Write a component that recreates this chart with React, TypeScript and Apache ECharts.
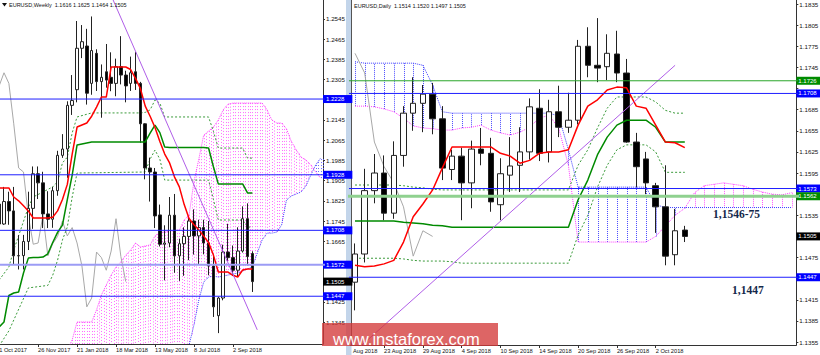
import React, { useEffect, useRef } from 'react';
import * as echarts from 'echarts';

// ================= WEEKLY (left panel) =================
// [open, close, low, high], week starting 1 Oct 2017 .. 30 Sep 2018
const weeklyOHLC = [
  [1.1812, 1.1733, 1.1669, 1.1836], [1.1733, 1.1822, 1.1730, 1.1880], [1.1822, 1.1785, 1.1730, 1.1861],
  [1.1785, 1.1607, 1.1574, 1.1880], [1.1607, 1.1608, 1.1553, 1.1689], [1.1608, 1.1664, 1.1553, 1.1690],
  [1.1664, 1.1795, 1.1630, 1.1861], [1.1795, 1.1932, 1.1714, 1.1961], [1.1932, 1.1896, 1.1832, 1.1961],
  [1.1896, 1.1773, 1.1717, 1.1940], [1.1773, 1.1752, 1.1717, 1.1863], [1.1752, 1.1865, 1.1718, 1.1880],
  [1.1865, 1.2005, 1.1845, 1.2023], [1.2005, 1.2030, 1.1995, 1.2089], [1.2030, 1.2203, 1.1916, 1.2219],
  [1.2203, 1.2222, 1.2165, 1.2323], [1.2265, 1.2429, 1.2215, 1.2537], [1.2429, 1.2455, 1.2390, 1.2521],
  [1.2438, 1.2251, 1.2206, 1.2506], [1.2290, 1.2420, 1.2245, 1.2555], [1.2409, 1.2297, 1.2260, 1.2425],
  [1.2297, 1.2314, 1.2154, 1.2365], [1.2336, 1.2303, 1.2273, 1.2446], [1.2314, 1.2290, 1.2259, 1.2413],
  [1.2290, 1.2356, 1.2239, 1.2388], [1.2356, 1.2323, 1.2286, 1.2477], [1.2323, 1.2280, 1.2215, 1.2340],
  [1.2290, 1.2332, 1.2260, 1.2396], [1.2336, 1.2290, 1.2264, 1.2414], [1.2290, 1.2130, 1.2055, 1.2296],
  [1.2130, 1.1955, 1.1910, 1.2132], [1.1955, 1.1939, 1.1822, 1.1996], [1.1939, 1.1765, 1.1717, 1.1955],
  [1.1769, 1.1653, 1.1644, 1.1810], [1.1653, 1.1658, 1.1510, 1.1728], [1.1658, 1.1768, 1.1641, 1.1840],
  [1.1768, 1.1607, 1.1540, 1.1852], [1.1607, 1.1655, 1.1508, 1.1675], [1.1655, 1.1684, 1.1528, 1.1720],
  [1.1684, 1.1745, 1.1590, 1.1765], [1.1745, 1.1686, 1.1612, 1.1791], [1.1686, 1.1719, 1.1575, 1.1750],
  [1.1719, 1.1658, 1.1613, 1.1750], [1.1658, 1.1567, 1.1530, 1.1745], [1.1567, 1.1405, 1.1365, 1.1609],
  [1.1370, 1.1440, 1.1301, 1.1445], [1.1440, 1.1622, 1.1431, 1.1651], [1.1622, 1.1600, 1.1587, 1.1734],
  [1.1600, 1.1550, 1.1527, 1.1648], [1.1550, 1.1626, 1.1526, 1.1720], [1.1626, 1.1754, 1.1620, 1.1803],
  [1.1754, 1.1604, 1.1569, 1.1815], [1.1616, 1.1505, 1.1464, 1.1625],
];
const weeklyTenkan = [
  1.1876, 1.1876, 1.1876, 1.1840, 1.1825, 1.1805, 1.1785, 1.1757, 1.1757, 1.1757,
  1.1757, 1.1760, 1.1785, 1.1830, 1.1890, 1.2010, 1.2117, 1.2125, 1.2133, 1.2160,
  1.2196, 1.2236, 1.2236, 1.2355, 1.2355, 1.2355, 1.2355, 1.2345, 1.2310, 1.2270,
  1.2200, 1.2160, 1.2115, 1.2060, 1.2010, 1.1975, 1.1920, 1.1880, 1.1810, 1.1755,
  1.1730, 1.1710, 1.1685, 1.1660, 1.1610, 1.1543, 1.1543, 1.1543, 1.1530, 1.1523,
  1.1551, 1.1555, 1.1555,
];
const weeklyKijun = [
  1.1325, 1.1345, 1.1450, 1.1460, 1.1464, 1.1539, 1.1598, 1.1600, 1.1600, 1.1602,
  1.1615, 1.1660, 1.1700, 1.1729, 1.1830, 1.1927, 1.2046, 1.2050, 1.2054, 1.2058,
  1.2058, 1.2058, 1.2058, 1.2058, 1.2058, 1.2058, 1.2058, 1.2058, 1.2058, 1.2058,
  1.2058, 1.2093, 1.2125, 1.2095, 1.2038, 1.2036, 1.2036, 1.2036, 1.2036, 1.2036,
  1.2036, 1.2036, 1.2036, 1.2034, 1.1960, 1.1892, 1.1892, 1.1892, 1.1892, 1.1892,
  1.1892, 1.1856, 1.1856,
];
const weeklyEnvUpper = [
  [0, 1.1511], [2, 1.1563], [3, 1.1630], [6, 1.1800], [7, 1.1840], [11, 1.1880], [12, 1.1900],
  [13, 1.1975], [14, 1.1998], [15, 1.2094], [16, 1.2157], [19, 1.2173], [29, 1.2173], [30, 1.2175],
  [31, 1.2185], [32, 1.2224], [33, 1.2212], [34, 1.2157], [43, 1.2157], [44, 1.2100], [45, 1.2034],
  [50, 1.2034], [51, 1.1994], [52, 1.1994],
];
const weeklyEnvLower = [
  [0, 1.1250], [2, 1.1310], [6, 1.1480], [10, 1.1490], [11, 1.1530], [12, 1.1590], [13, 1.1670],
  [14, 1.1721], [15, 1.1840], [16, 1.1935], [30, 1.1939], [31, 1.1990], [32, 1.2026], [33, 1.1990],
  [34, 1.1907], [43, 1.1907], [44, 1.1830], [45, 1.1749], [50, 1.1749], [51, 1.1721], [52, 1.1721],
];
const weeklyCloudStart = 14;
const weeklySpanA = [
  1.1234, 1.1274, 1.1345, 1.1345, 1.1345, 1.1345, 1.1393, 1.1452, 1.1492, 1.1531,
  1.1563, 1.1583, 1.1610, 1.1630, 1.1658, 1.1642, 1.1646, 1.1650, 1.1686, 1.1701,
  1.1701, 1.1705, 1.1709, 1.1709, 1.1749, 1.1769, 1.1900, 1.1990, 1.2085, 1.2101,
  1.2117, 1.2145, 1.2185, 1.2208, 1.2212, 1.2212, 1.2212, 1.2212, 1.2212, 1.2212,
  1.2212, 1.2185, 1.2145, 1.2133, 1.2133, 1.2110, 1.2060, 1.2026, 1.1998, 1.1986,
  1.1967, 1.1939, 1.1915,
];
const weeklySpanB = [
  1.1210, 1.1210, 1.1210, 1.1210, 1.1210, 1.1210, 1.1210, 1.1210, 1.1210, 1.1210,
  1.1210, 1.1210, 1.1210, 1.1210, 1.1210, 1.1210, 1.1210, 1.1210, 1.1210, 1.1210,
  1.1210, 1.1210, 1.1210, 1.1210, 1.1210, 1.1254, 1.1333, 1.1432, 1.1503, 1.1523,
  1.1527, 1.1523, 1.1527, 1.1531, 1.1535, 1.1539, 1.1547, 1.1555, 1.1563, 1.1618,
  1.1670, 1.1697, 1.1697, 1.1701, 1.1729, 1.1828, 1.1844, 1.1852, 1.1860, 1.1884,
  1.1927, 1.1967, 1.1994,
];
const weeklyTrend = [[23, 1.2638], [53, 1.1314]];
const weeklyCount = 67;
const weeklyLabelIdx = [0, 8, 16, 24, 32, 40, 48];
const weeklyLabels = ['1 Oct 2017', '26 Nov 2017', '21 Jan 2018', '18 Mar 2018', '13 May 2018', '8 Jul 2018', '2 Sep 2018'];
const weeklyTicks = [1.1345, 1.1425, 1.1505, 1.1585, 1.1665, 1.1745, 1.1825, 1.1905, 1.1985, 1.2065, 1.2145, 1.2225, 1.2305, 1.2385, 1.2465, 1.2545];
// tick labels that the price tags do not cover
const weeklyTickLabels = [1.1345, 1.1425, 1.1665, 1.1745, 1.1825, 1.1905, 1.1985, 1.2065, 1.2145, 1.2305, 1.2385, 1.2465, 1.2545];
const weeklyLevels = [1.2228, 1.1928, 1.1708, 1.1572, 1.1447];
const weeklyBid = 1.1505;

// ================= DAILY (right panel) =================
// [open, close, low, high], 20 Aug 2018 .. 5 Oct 2018
const dailyOHLC = [
  [1.1440, 1.1480, 1.1400, 1.1495], [1.1480, 1.1570, 1.1468, 1.1601], [1.1570, 1.1595, 1.1552, 1.1622],
  [1.1595, 1.1538, 1.1528, 1.1620], [1.1538, 1.1620, 1.1530, 1.1640], [1.1620, 1.1680, 1.1604, 1.1690],
  [1.1680, 1.1694, 1.1655, 1.1731], [1.1694, 1.1707, 1.1653, 1.1720], [1.1707, 1.1672, 1.1650, 1.1723],
  [1.1672, 1.1602, 1.1585, 1.1690], [1.1600, 1.1619, 1.1585, 1.1628], [1.1619, 1.1581, 1.1528, 1.1631],
  [1.1581, 1.1629, 1.1545, 1.1641], [1.1629, 1.1623, 1.1606, 1.1659], [1.1623, 1.1554, 1.1540, 1.1645],
  [1.1550, 1.1594, 1.1528, 1.1616], [1.1592, 1.1605, 1.1568, 1.1646], [1.1606, 1.1625, 1.1568, 1.1660],
  [1.1625, 1.1689, 1.1614, 1.1701], [1.1687, 1.1623, 1.1612, 1.1714], [1.1625, 1.1682, 1.1610, 1.1699],
  [1.1682, 1.1660, 1.1646, 1.1719], [1.1660, 1.1670, 1.1652, 1.1709], [1.1670, 1.1775, 1.1664, 1.1784],
  [1.1775, 1.1748, 1.1731, 1.1802], [1.1748, 1.1744, 1.1724, 1.1815], [1.1746, 1.1765, 1.1727, 1.1792],
  [1.1764, 1.1737, 1.1724, 1.1797], [1.1737, 1.1639, 1.1638, 1.1757], [1.1639, 1.1604, 1.1575, 1.1652],
  [1.1615, 1.1581, 1.1565, 1.1625], [1.1577, 1.1547, 1.1510, 1.1581], [1.1547, 1.1477, 1.1464, 1.1606],
  [1.1479, 1.1513, 1.1464, 1.1544], [1.1514, 1.1505, 1.1497, 1.1520],
];
const dailyTenkan = [
  1.1464, 1.1462, 1.1463, 1.1466, 1.1471, 1.1497, 1.1533, 1.1551, 1.1571, 1.1602,
  1.1632, 1.1632, 1.1632, 1.1632, 1.1632, 1.1623, 1.1619, 1.1609, 1.1613, 1.1623,
  1.1625, 1.1625, 1.1628, 1.1663, 1.1690, 1.1699, 1.1713, 1.1717, 1.1716, 1.1690,
  1.1687, 1.1663, 1.1639, 1.1638, 1.1631,
];
const dailyKijun = [
  1.1527, 1.1527, 1.1527, 1.1527, 1.1527, 1.1525, 1.1524, 1.1523, 1.1521, 1.1520,
  1.1518, 1.1518, 1.1518, 1.1518, 1.1518, 1.1518, 1.1518, 1.1518, 1.1518, 1.1518,
  1.1518, 1.1518, 1.1518, 1.1557, 1.1585, 1.1621, 1.1646, 1.1663, 1.1670, 1.1670,
  1.1670, 1.1660, 1.1639, 1.1639, 1.1639,
];
const dailyEnvUpper = [
  1.1578, 1.1578, 1.1578, 1.1578, 1.1578, 1.1577, 1.1575, 1.1574, 1.1572, 1.1571,
  1.1571, 1.1571, 1.1571, 1.1571, 1.1571, 1.1571, 1.1571, 1.1571, 1.1571, 1.1571,
  1.1571, 1.1571, 1.1571, 1.1606, 1.1628, 1.1659, 1.1687, 1.1703, 1.1703, 1.1703,
  1.1703, 1.1696, 1.1684, 1.1680, 1.1680,
];
const dailyEnvLower = [
  1.1474, 1.1474, 1.1474, 1.1474, 1.1474, 1.1473, 1.1471, 1.1470, 1.1470, 1.1470,
  1.1469, 1.1467, 1.1467, 1.1467, 1.1467, 1.1467, 1.1467, 1.1467, 1.1467, 1.1467,
  1.1467, 1.1467, 1.1467, 1.1507, 1.1535, 1.1575, 1.1606, 1.1628, 1.1635, 1.1635,
  1.1635, 1.1625, 1.1596, 1.1596, 1.1596,
];
const dailySpanA = [
  1.1690, 1.1690, 1.1689, 1.1686, 1.1682, 1.1673, 1.1662, 1.1659, 1.1658, 1.1656,
  1.1656, 1.1659, 1.1660, 1.1663, 1.1656, 1.1652, 1.1649, 1.1653, 1.1660, 1.1673,
  1.1677, 1.1659, 1.1606, 1.1497, 1.1497, 1.1497, 1.1497, 1.1497, 1.1497, 1.1497,
  1.1497, 1.1505, 1.1520, 1.1535, 1.1545, 1.1567, 1.1577, 1.1579, 1.1581, 1.1579,
  1.1577, 1.1572, 1.1568, 1.1565, 1.1564, 1.1567,
];
const dailySpanB = [
  1.1753, 1.1751, 1.1751, 1.1751, 1.1751, 1.1751, 1.1751, 1.1748, 1.1720, 1.1682,
  1.1680, 1.1680, 1.1680, 1.1680, 1.1680, 1.1680, 1.1680, 1.1680, 1.1680, 1.1680,
  1.1680, 1.1676, 1.1628, 1.1575, 1.1575, 1.1575, 1.1575, 1.1575, 1.1575, 1.1575,
  1.1575, 1.1550, 1.1546, 1.1546, 1.1546, 1.1546, 1.1546, 1.1546, 1.1546, 1.1546,
  1.1546, 1.1546, 1.1546, 1.1546, 1.1546, 1.1546,
];
const dailyTrend = [[0, 1.1342], [33, 1.1748]];
const dailyCount = 46;
const dailyLabelIdx = [3, 7, 11, 15, 19, 23, 27, 31];
const dailyLabels = ['23 Aug 2018', '29 Aug 2018', '4 Sep 2018', '10 Sep 2018', '14 Sep 2018', '20 Sep 2018', '26 Sep 2018', '2 Oct 2018'];
const dailyTicks = [1.1355, 1.1385, 1.1415, 1.1445, 1.1475, 1.1505, 1.1535, 1.1565, 1.1595, 1.1625, 1.1655, 1.1685, 1.1715, 1.1745, 1.1775, 1.1805, 1.1835];
const dailyTickLabels = [1.1355, 1.1385, 1.1415, 1.1475, 1.1535, 1.1595, 1.1625, 1.1655, 1.1685, 1.1745, 1.1775, 1.1805, 1.1835];
const dailyLevels = [1.1726, 1.1708, 1.1573, 1.1562, 1.1447];
const dailyBid = 1.1505;
const chikouShift = 26;

// ================= styles =================
const FONT = '"Liberation Sans", Arial, sans-serif';
const PINK = '#ff3cff';
const BLUE = '#3c3cff';
const AXIS = '#333';
const NONE = 'rgba(0,0,0,0)';
const weeklyLevelStyle = [
  { color: '#1e1eff', width: 1, tag: '#0000ff' },
  { color: '#1e1eff', width: 1, tag: '#0000ff' },
  { color: '#1e1eff', width: 1, tag: '#0000ff' },
  { color: '#9c9cf5', width: 2, tag: '#0000ff' },
  { color: '#1e1eff', width: 1, tag: '#0000ff' },
];
const dailyLevelStyle = [
  { color: '#2aa52a', width: 1, tag: '#008c00' },
  { color: '#1e1eff', width: 1, tag: '#0000ff' },
  { color: '#1e1eff', width: 1, tag: '#0000ff' },
  { color: '#8fd18f', width: 3, tag: '#008c00' },
  { color: '#1e1eff', width: 1, tag: '#0000ff' },
];

// price tags on the axis (labels only, the lines are drawn as line series)
function priceTags(levels: number[], styles: any[], bid: number, padding: number[]) {
  const label = (bg: string) => ({
    show: true, position: 'end', distance: 0, color: '#ffffff', backgroundColor: bg,
    fontSize: 6, fontFamily: FONT, lineHeight: 7, padding, opacity: 1,
    formatter: (p: any) => Number(p.value).toFixed(4),
  });
  return {
    symbol: ['none', 'none'], silent: true, animation: false, precision: 4,
    lineStyle: { color: NONE, width: 1, type: 'solid' },
    emphasis: { disabled: true },
    data: [
      ...levels.map((v, k) => ({ yAxis: v, lineStyle: { color: NONE }, label: label(styles[k].tag) })),
      { yAxis: bid, lineStyle: { color: NONE }, label: label('#000000') },
    ],
  };
}

function levelSeries(axis: number, count: number, levels: number[], styles: any[]) {
  return levels.map((v, k) => ({
    type: 'line', xAxisIndex: axis, yAxisIndex: axis, symbol: 'none', silent: true, clip: true, z: 6,
    data: [[-1, v], [count, v]],
    lineStyle: { color: styles[k].color, width: styles[k].width, type: 'solid' },
    emphasis: { disabled: true },
  }));
}

function hatch(axis: number, start: number, aVals: number[], bVals: number[], perBar: number, pink: string, blue: string, dash: number[]) {
  const data = aVals.map((a, k) => [start + k, a, bVals[k], aVals[k + 1] ?? a, bVals[k + 1] ?? bVals[k]]);
  return {
    type: 'custom', xAxisIndex: axis, yAxisIndex: axis, clip: true, silent: true, z: 1,
    data,
    encode: { x: 0, y: [1, 2] },
    renderItem: (params: any, api: any) => {
      const i = api.value(0);
      const bw = api.size([1, 0])[0];
      const children: any[] = [];
      for (let s = 0; s < perBar; s++) {
        const t = s / perBar;
        const a = api.value(1) + (api.value(3) - api.value(1)) * t;
        const b = api.value(2) + (api.value(4) - api.value(2)) * t;
        const p1 = api.coord([i, a]);
        const p2 = api.coord([i, b]);
        const x = Math.round(p1[0] + bw * t) + 0.5;
        children.push({
          type: 'line', shape: { x1: x, y1: p1[1], x2: x, y2: p2[1] },
          style: { stroke: a >= b ? pink : blue, lineWidth: 1, lineDash: dash },
        });
      }
      return { type: 'group', children };
    },
  };
}

function line(axis: number, data: any[], color: string, width: number, type: any, z: number) {
  return {
    type: 'line', xAxisIndex: axis, yAxisIndex: axis, data, symbol: 'none', silent: true, clip: true, z,
    lineStyle: { color, width, type }, emphasis: { disabled: true },
  };
}

function xAxis(grid: number, count: number, idx: number[], labels: string[]) {
  const cats = Array.from({ length: count }, (_, i) => String(i));
  return {
    type: 'category', gridIndex: grid, data: cats, boundaryGap: true,
    axisLine: { show: true, lineStyle: { color: AXIS, width: 1 } },
    axisTick: { show: true, alignWithLabel: true, length: 3, interval: (i: number) => idx.includes(i), lineStyle: { color: AXIS } },
    axisLabel: {
      show: true, interval: (i: number) => idx.includes(i), align: 'left', margin: 3,
      fontSize: 5.7, fontFamily: FONT, color: '#111',
      formatter: (_v: string, i: number) => { const k = idx.indexOf(i); return k >= 0 ? labels[k] : ''; },
    },
    splitLine: { show: false },
  };
}

function yAxis(grid: number, min: number, max: number, ticks: number[], tickLabels: number[]) {
  return {
    type: 'value', gridIndex: grid, position: 'right', min, max,
    axisLine: { show: true, lineStyle: { color: AXIS, width: 1 } },
    axisTick: { show: true, length: 2, customValues: ticks, lineStyle: { color: AXIS } },
    axisLabel: { show: true, customValues: tickLabels, margin: 3, fontSize: 6.2, fontFamily: FONT, color: '#111', formatter: (v: number) => v.toFixed(4) },
    splitLine: { show: false },
  };
}

function buildOption() {
  const wClose = weeklyOHLC.map((r) => r[1]);
  const dClose = dailyOHLC.map((r) => r[1]);
  const wChikou = wClose.slice(chikouShift).map((c, k) => [k, c]);
  const dChikou = dClose.slice(chikouShift).map((c, k) => [k, c]);
  const wA = weeklySpanA.map((v, k) => [weeklyCloudStart + k, v]);
  const wB = weeklySpanB.map((v, k) => [weeklyCloudStart + k, v]);
  const candleStyle = { color: '#ffffff', color0: '#000000', borderColor: '#222', borderColor0: '#222', borderColorDoji: '#222', borderWidth: 1 };

  return {
    animation: false,
    backgroundColor: '#ffffff',
    grid: [
      { left: -3.3, top: 0, width: 326.3, height: 344, outerBoundsMode: 'none', containLabel: false },
      { left: 350.15, top: 0, width: 446.2, height: 345, outerBoundsMode: 'none', containLabel: false },
    ],
    xAxis: [
      xAxis(0, weeklyCount, weeklyLabelIdx, weeklyLabels),
      xAxis(1, dailyCount, dailyLabelIdx, dailyLabels),
    ],
    yAxis: [
      yAxis(0, 1.12579, 1.26202, weeklyTicks, weeklyTickLabels),
      yAxis(1, 1.13508, 1.18407, dailyTicks, dailyTickLabels),
    ],
    series: [
      // ---- weekly
      hatch(0, weeklyCloudStart, weeklySpanA, weeklySpanB, 2, '#ff6eff', '#6a6aff', [1, 2]),
      line(0, wA, PINK, 1, [1, 1], 2),
      line(0, wB, BLUE, 1, [1, 1], 2),
      line(0, wChikou, '#a8a8a8', 1, 'solid', 3),
      line(0, weeklyEnvUpper, '#3a9a3a', 1, [2, 2], 3),
      line(0, weeklyEnvLower, '#3a9a3a', 1, [2, 2], 3),
      {
        type: 'candlestick', xAxisIndex: 0, yAxisIndex: 0, data: weeklyOHLC, barWidth: 3, z: 4, silent: true,
        itemStyle: candleStyle,
      },
      ...levelSeries(0, weeklyCount, weeklyLevels, weeklyLevelStyle),
      line(0, weeklyKijun, '#008a00', 1.5, 'solid', 5),
      line(0, weeklyTenkan, '#ff0000', 1.5, 'solid', 5),
      line(0, weeklyTrend, '#b05ee8', 1, 'solid', 5),
      {
        type: 'line', xAxisIndex: 0, yAxisIndex: 0, data: [], symbol: 'none', silent: true, z: 8,
        markLine: priceTags(weeklyLevels, weeklyLevelStyle, weeklyBid, [1, 8, 0, 3]),
      },
      // ---- daily
      hatch(1, 0, dailySpanA, dailySpanB, 1, '#ff55ff', '#4a4aff', [1, 1]),
      line(1, dailySpanA, PINK, 1, [1, 1], 2),
      line(1, dailySpanB, BLUE, 1, [1, 1], 2),
      line(1, dChikou, '#a8a8a8', 1, 'solid', 3),
      line(1, dailyEnvUpper, '#3a9a3a', 1, [2, 2], 3),
      line(1, dailyEnvLower, '#3a9a3a', 1, [2, 2], 3),
      {
        type: 'candlestick', xAxisIndex: 1, yAxisIndex: 1, data: dailyOHLC, barWidth: 6, z: 4, silent: true,
        itemStyle: candleStyle,
      },
      ...levelSeries(1, dailyCount, dailyLevels, dailyLevelStyle),
      line(1, dailyKijun, '#008a00', 1.5, 'solid', 5),
      line(1, dailyTenkan, '#ff0000', 1.5, 'solid', 5),
      line(1, dailyTrend, '#b05ee8', 1, 'solid', 5),
      {
        type: 'line', xAxisIndex: 1, yAxisIndex: 1, data: [], symbol: 'none', silent: true, z: 8,
        markLine: priceTags(dailyLevels, dailyLevelStyle, dailyBid, [1, 5, 0, 2]),
      },
    ],
    graphic: {
      elements: [
        { type: 'rect', z: 0, shape: { x: 346, y: 0, width: 5.5, height: 355 }, style: { fill: '#c3d5ea' } },
        { type: 'line', z: 0, shape: { x1: 351.5, y1: 0, x2: 351.5, y2: 345 }, style: { stroke: '#555', lineWidth: 1 } },
        { type: 'polygon', z: 60, shape: { points: [[2, 3], [7, 3], [4.5, 6.5]] }, style: { fill: '#111' } },
        { type: 'text', z: 60, x: 9, y: 5, style: { text: 'EURUSD,Weekly  1.1616 1.1625 1.1464 1.1505', font: `5.5px ${FONT}`, fill: '#111', verticalAlign: 'middle' } },
        { type: 'text', z: 60, x: 354, y: 6, style: { text: 'EURUSD,Daily  1.1514 1.1520 1.1497 1.1505', font: `5.5px ${FONT}`, fill: '#111', verticalAlign: 'middle' } },
        { type: 'text', z: 60, x: 353, y: 350.5, style: { text: 'Aug 2018', font: `5.7px ${FONT}`, fill: '#111', verticalAlign: 'middle' } },
        { type: 'text', z: 60, x: 713, y: 214, style: { text: '1,1546-75', font: `bold 11.5px "Liberation Serif", serif`, fill: '#14284a', verticalAlign: 'middle' } },
        { type: 'text', z: 60, x: 732, y: 289.5, style: { text: '1,1447', font: `bold 11.5px "Liberation Serif", serif`, fill: '#14284a', verticalAlign: 'middle' } },
        { type: 'rect', z: 80, shape: { x: 322, y: 323, width: 176, height: 23 }, style: { fill: 'rgba(212,58,58,0.78)' } },
        { type: 'text', z: 81, x: 333, y: 338.5, style: { text: 'www.instaforex.com', font: `16.5px ${FONT}`, fill: '#ffffff', verticalAlign: 'middle' } },
      ],
    },
  };
}

export default function App() {
  const ref = useRef<HTMLDivElement>(null);
  useEffect(() => {
    document.body.style.margin = '0';
    const chart = echarts.init(ref.current as HTMLDivElement, null, { renderer: 'svg', width: 820, height: 355 });
    chart.setOption(buildOption() as any);
    return () => chart.dispose();
  }, []);
  return <div ref={ref} style={{ position: 'absolute', left: 0, top: 0, width: 820, height: 355, background: '#fff' }} />;
}
